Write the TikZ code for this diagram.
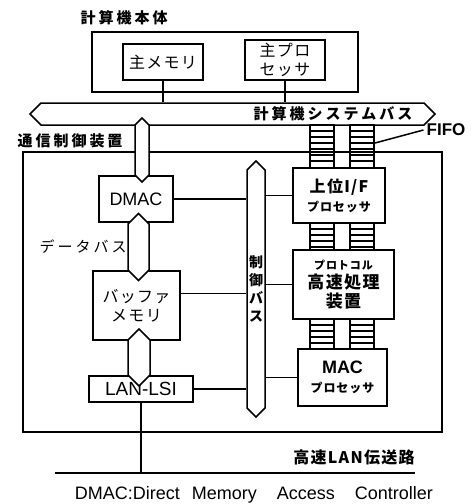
\documentclass[tikz,border=0pt]{standalone}
\usepackage{fontspec}
\setmainfont{Noto Sans CJK JP}
\newfontfamily\latin{Liberation Sans}
\newfontfamily\wide[LetterSpace=20]{Noto Sans CJK JP}
\newfontfamily\semiwide[LetterSpace=8]{Noto Sans CJK JP}
\usetikzlibrary{shapes.symbols}

\begin{document}
\begin{tikzpicture}[x=1pt, y=-1pt,
    box/.style={rectangle, draw, line width=1.5pt, inner sep=0pt, align=center,
                font=\semiwide\fontsize{16}{19}\selectfont},
    bbox/.style={box, font=\semiwide\bfseries\fontsize{16}{19}\selectfont},
    bus/.style={signal, draw, fill=white, line width=1.5pt, inner sep=0pt,
                signal pointer angle=90},
    vbus/.style={bus, signal to=north and south},
    hbus/.style={bus, signal to=east and west},
    lbl/.style={inner sep=0pt, font=\wide\bfseries\fontsize{15}{17}\selectfont},
    wire/.style={line width=1.5pt},
    fifo/.style={line width=1.3pt}
]
\useasboundingbox (0,0) rectangle (474,504);

% host computer
\node[box, minimum width=266, minimum height=60] (host) at (225,62) {};
\node[lbl] (hostlbl) at (124,18) {計算機本体};
\node[box, minimum width=80, minimum height=36] (mem) at (163,62) {主メモリ};
\node[box, minimum width=80, minimum height=40] (cpu) at (285,60) {主プロ\\セッサ};
\node[hbus, minimum width=405, minimum height=22] (sbus) at (232.5,114) {};
\node[lbl] (sbuslbl) at (333,114) {計算機システムバス};
\draw[wire] (mem.south) -- (mem.south |- sbus.north);
\draw[wire] (cpu.south) -- (cpu.south |- sbus.north);

% communication controller
\node[box, minimum width=419, minimum height=280] (comm) at (232.5,292) {};
\node[lbl] (commlbl) at (70,141) {通信制御装置};

\node[box, minimum width=74, minimum height=46, font=\latin\fontsize{18}{20}\selectfont]
    (dmac) at (136,199) {DMAC};
\node[box, minimum width=87, minimum height=69] (buf) at (136.5,305.5) {バッファ\\メモリ};
\node[box, minimum width=104, minimum height=26, font=\latin\fontsize{19}{20}\selectfont]
    (lsi) at (141,389) {LAN-LSI};

\node[vbus, minimum width=14, minimum height=50] (dbusA) at (142,150) {};
\node[vbus, minimum width=21, minimum height=46] (dbusB) at (138.5,247) {};
\node[vbus, minimum width=22, minimum height=35] (dbusC) at (139,357.5) {};
\node[inner sep=0pt, font=\wide\fontsize{15}{17}\selectfont] (dbuslbl) at (83,247) {データバス};

\node[vbus, minimum width=18, minimum height=252, align=center,
      font=\semiwide\bfseries\fontsize{14}{18}\selectfont] (cbus) at (256,289) {制\\御\\バ\\ス};

\node[bbox, minimum width=92, minimum height=55] (ifp) at (339,195.5)
    {上位I/F\\{\fontsize{12}{15}\selectfont プロセッサ}};
\node[bbox, minimum width=101, minimum height=69] (proto) at (343.5,284.5)
    {{\fontsize{11}{14}\selectfont プロトコル}\\{\fontsize{17}{20}\selectfont 高速処理}\\
     {\fontsize{17}{20}\selectfont 装置}};
\node[bbox, minimum width=89, minimum height=57] (mac) at (342.5,377.5)
    {{\latin\fontsize{18}{20}\selectfont MAC}\\{\fontsize{12}{15}\selectfont プロセッサ}};

\draw[wire] (dmac.east) -- (dmac.east -| cbus.west);
\draw[wire] ([yshift=12pt]buf.east) -- ([yshift=12pt]buf.east -| cbus.west);
\draw[wire] (lsi.east) -- (lsi.east -| cbus.west);
\draw[wire] (ifp.west) -- (ifp.west -| cbus.east);
\draw[wire] (proto.west) -- (proto.west -| cbus.east);
\draw[wire] (mac.west) -- (mac.west -| cbus.east);

% FIFO ladders
\foreach \x in {310,350} {
  \foreach \ya/\yb in {125/168, 223/250, 319/349}
    \draw[fifo] (\x,\ya) rectangle (\x+24,\yb);
  \foreach \y in {131,137,...,163,229,235,...,247,325,331,...,343}
    \draw[fifo] (\x,\y) -- (\x+24,\y);
}
\node[inner sep=0pt, font=\latin\bfseries\fontsize{17}{19}\selectfont] (fifolbl) at (446,130) {FIFO};
\coordinate (fifopt) at (375,143);
\draw[wire] (fifopt) -- ([xshift=-3pt]fifolbl.west);

% LAN
\coordinate (lanL) at (55,473);
\coordinate (lanR) at (415,473);
\draw[wire] (lanL) -- (lanR);
\draw[wire] (lsi.south) -- (lsi.south |- lanL);
\node[inner sep=0pt, font=\semiwide\bfseries\fontsize{16}{18}\selectfont]
    (lanlbl) at (354,457) {高速LAN伝送路};
\node[inner sep=0pt, font=\latin\fontsize{18}{20}\selectfont] (caption) at (254,495)
    {DMAC:Direct\hspace{12pt}Memory\hspace{20pt}Access\hspace{20pt}Controller};
\end{tikzpicture}
\end{document}
